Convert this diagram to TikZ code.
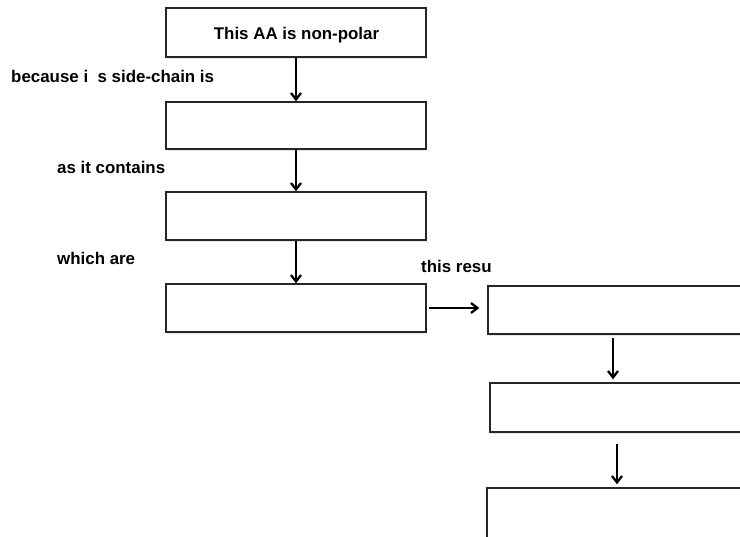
\documentclass[tikz,border=0pt]{standalone}
\usepackage{fontspec}
\setmainfont{Liberation Sans}
\usetikzlibrary{arrows.meta,shadows}
\begin{document}
\begin{tikzpicture}[x=1pt,y=-1pt,
  box/.style={draw=black!85, line width=1.3pt, fill=white, rectangle, inner sep=0pt,
    drop shadow={opacity=0.2, shadow xshift=1pt, shadow yshift=-1.8pt}},
  arr/.style={line width=2.3pt, -{Straight Barb[length=6.5pt,width=10pt]}},
  lbl/.style={font=\fontsize{16.9}{20}\selectfont\bfseries, anchor=base west, inner sep=0pt},
  ttl/.style={font=\fontsize{16.9}{20}\selectfont\bfseries, anchor=base, inner sep=0pt}]
\useasboundingbox (0,0) rectangle (740,537);
\clip (0,0) rectangle (740,537);
% left column
\node[box, minimum width=260pt, minimum height=49pt] (b1) at (296,32.5) {};
\node[ttl] (t1) at (296.5,40) {This AA is non-polar};
\node[box, minimum width=260pt, minimum height=47pt] (b2) at (296,125.5) {};
\node[box, minimum width=260pt, minimum height=48pt] (b3) at (296,216) {};
\node[box, minimum width=260pt, minimum height=48pt] (b4) at (296,308) {};
% right column (runs off the right edge)
\node[box, minimum width=292pt, minimum height=48pt] (b5) at (634,310) {};
\node[box, minimum width=290pt, minimum height=49pt] (b6) at (635,407.5) {};
\node[box, minimum width=293pt, minimum height=72pt] (b7) at (633.5,524) {};
% labels
\node[lbl] (l1) at (11,83) {because i\ \ s side-chain is};
\node[lbl] (l2) at (57,174) {as it contains};
\node[lbl] (l3) at (57,265) {which are};
\node[lbl] (l4) at (421,273) {this resu};
% connectors
\coordinate (c5) at (613,0);
\coordinate (c6) at (617,0);
\draw[arr] (b1.south) -- (b2.north);
\draw[arr] (b2.south) -- (b3.north);
\draw[arr] (b3.south) -- (b4.north);
\draw[arr, shorten <=2pt, shorten >=8pt] (b4.east) -- (b4.east -| b5.west);
\draw[arr, shorten <=3pt, shorten >=3pt] (b5.south -| c5) -- (b6.north -| c5);
\draw[arr, shorten <=11pt, shorten >=3pt] (b6.south -| c6) -- (b7.north -| c6);
\end{tikzpicture}
\end{document}
